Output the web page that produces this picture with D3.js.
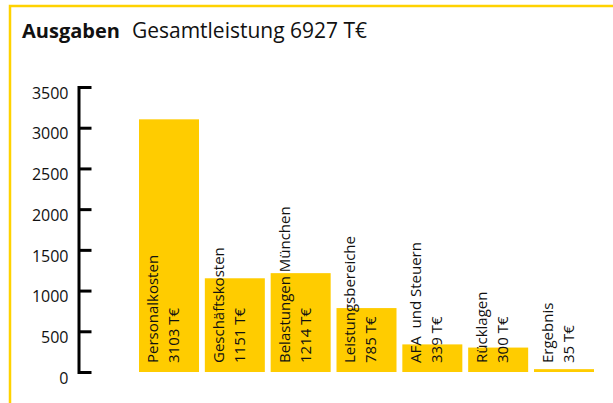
<!DOCTYPE html>
<html>
<head>
<meta charset="utf-8">
<script src="https://cdn.jsdelivr.net/npm/d3@7"></script>
<style>
    body { margin: 0; background: #fff; }
    text { font-family: "Open Sans", sans-serif; fill: #111; }
</style>
</head>
<body>
<div id="chart"></div>
<script>
// Data
var categories      =   [ 'Personalkosten', 'Geschäftskosten', 'Belastungen München',
                          'Leistungsbereiche', 'AFA  und Steuern', 'Rücklagen', 'Ergebnis' ];
var values          =   [ 3103, 1151, 1214, 785, 339, 300, 35 ];
var y_ticks         =   [ 0, 500, 1000, 1500, 2000, 2500, 3000, 3500 ];
var title_bold      =   'Ausgaben';
var title_rest      =   'Gesamtleistung 6927 T€';
var unit            =   'T€';

var chart_width     =   613;
var chart_height    =   403;
var yellow          =   '#ffcc00';

// Scales
var x_scale         =   d3.scaleBand()
    .domain(categories)
    .range([139, 594])
    .paddingInner(0.0886)
    .paddingOuter(0);
var y_scale         =   d3.scaleLinear()
    .domain([0, 3500])
    .range([372, 87]);

// Create SVG
var svg             =   d3.select('#chart')
    .append('svg')
    .attr('width', chart_width)
    .attr('height', chart_height);

// Frame (top and left yellow rule)
svg.append('path')
    .attr('d', 'M10,' + chart_height + 'V6H' + chart_width)
    .attr('fill', 'none')
    .attr('stroke', '#ffd200')
    .attr('stroke-width', 2.5);

// Title
var title           =   svg.append('text')
    .attr('x', 22)
    .attr('y', 38);
title.append('tspan')
    .style('font-weight', 'bold')
    .style('font-size', '20px')
    .text(title_bold);
title.append('tspan')
    .attr('dx', 12)
    .style('font-size', '21px')
    .text(title_rest);

// Bars
svg.selectAll('rect.bar')
    .data(values)
    .enter()
    .append('rect')
    .attr('class', 'bar')
    .attr('x', function(d, i) { return x_scale(categories[i]); })
    .attr('y', function(d) { return y_scale(d); })
    .attr('width', x_scale.bandwidth())
    .attr('height', function(d) { return y_scale(0) - y_scale(d); })
    .attr('fill', yellow);

// Bar labels (rotated, two lines)
var labels          =   svg.selectAll('text.lbl')
    .data(values)
    .enter()
    .append('text')
    .attr('class', 'lbl')
    .attr('transform', function(d, i) {
        return 'translate(' + (x_scale(categories[i]) + 19) + ',' + (y_scale(0) - 9) + ') rotate(-90)';
    })
    .style('font-size', '15px');
labels.append('tspan')
    .attr('x', 0)
    .attr('xml:space', 'preserve')
    .text(function(d, i) { return categories[i]; });
labels.append('tspan')
    .attr('x', 0)
    .attr('dy', 21)
    .text(function(d) { return d + ' ' + unit; });

// Y axis
var y_axis          =   d3.axisLeft(y_scale)
    .tickValues(y_ticks)
    .tickFormat(d3.format('d'))
    .tickSize(-13)
    .tickSizeOuter(0)
    .tickPadding(10);

var y_g             =   svg.append('g')
    .attr('transform', 'translate(78.5,0)')
    .call(y_axis);
y_g.select('.domain')
    .attr('stroke', '#000')
    .attr('stroke-width', 3)
    .attr('stroke-linecap', 'square');
y_g.selectAll('.tick line')
    .attr('stroke', '#000')
    .attr('stroke-width', 3);
y_g.selectAll('.tick text')
    .attr('dy', '0.7em')
    .style('font-size', '16px')
    .style('font-family', '"Open Sans", sans-serif')
    .attr('fill', '#111');
</script>
</body>
</html>
